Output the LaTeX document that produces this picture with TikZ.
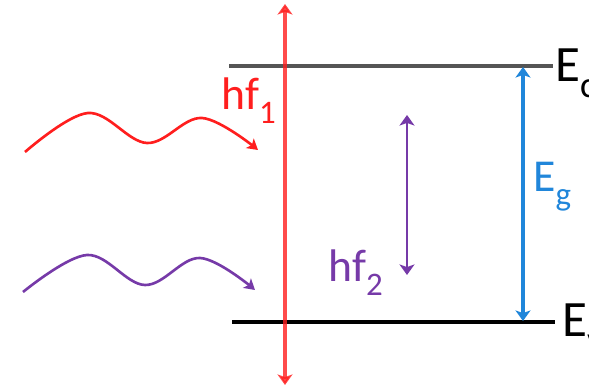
\documentclass[tikz,border=0pt]{standalone}
\usepackage{fontspec}
\setmainfont{Carlito}
\usetikzlibrary{arrows.meta}
\definecolor{photored}{RGB}{255, 30, 30}
\definecolor{photopurple}{RGB}{118, 58, 168}
\definecolor{gapblue}{RGB}{32, 134, 218}
\definecolor{levelgray}{RGB}{85, 85, 85}
\newcommand{\lowsub}[1]{\raisebox{-0.3em}{\scalebox{0.72}{#1}}}

\begin{document}
\begin{tikzpicture}[x=0.02cm, y=-0.02cm,
  level/.style={line width=2.2pt},
  lbl/.style={anchor=base west, inner sep=0pt, font=\fontsize{26}{30}\selectfont},
  band/.style={anchor=base west, inner sep=0pt, font=\fontsize{29}{33}\selectfont},
  wave/.style={line width=1.5pt, -{Stealth[length=6pt, width=7pt, inset=1.5pt]}},
  both/.style={{Stealth[length=6pt, width=8.5pt, inset=1.5pt]}-{Stealth[length=6pt, width=8.5pt, inset=1.5pt]}}
]
  \useasboundingbox (0,0) rectangle (589,391);
  \clip (0,0) rectangle (589,391);

  \coordinate (cL) at (229,66);
  \coordinate (cR) at (553,66);
  \coordinate (vL) at (232,322);
  \coordinate (vR) at (555,322);
  \draw[level, levelgray] (cL) -- (cR);
  \draw[level, black] (vL) -- (vR);

  \coordinate (redtop) at (285,4);
  \coordinate (redbot) at (285,385);
  \draw[both, photored, opacity=0.8, line width=2.5pt] (redbot) -- (redtop);

  \coordinate (gaptop) at (523,67);
  \coordinate (gapbot) at (523,321);
  \draw[both, gapblue, line width=1.8pt] (gapbot) -- (gaptop);

  \coordinate (hftop) at (407,115);
  \coordinate (hfbot) at (407,275);
  \draw[both, photopurple, line width=1.5pt] (hfbot) -- (hftop);

  \coordinate (ra) at (25,152);
  \coordinate (rb) at (88,113);
  \coordinate (rc) at (147,143);
  \coordinate (rd) at (202,118);
  \coordinate (re) at (258,150);
  \draw[wave, photored] plot[smooth, tension=0.6] coordinates {(ra) (rb) (rc) (rd) (re)};

  \coordinate (pa) at (23,292);
  \coordinate (pb) at (87,255);
  \coordinate (pc) at (145,285);
  \coordinate (pd) at (200,258);
  \coordinate (pe) at (255,290);
  \draw[wave, photopurple] plot[smooth, tension=0.6] coordinates {(pa) (pb) (pc) (pd) (pe)};

  \node[lbl, photored] (hfone) at (221,110) {hf\lowsub{1}};
  \node[lbl, photopurple] (hftwo) at (328,282) {hf\lowsub{2}};
  \node[lbl, gapblue] (eg) at (533,192) {E\lowsub{g}};
  \node[band] (ec) at (555,82) {E\lowsub{c}};
  \node[band] (ev) at (562,337) {E\lowsub{v}};
\end{tikzpicture}
\end{document}
